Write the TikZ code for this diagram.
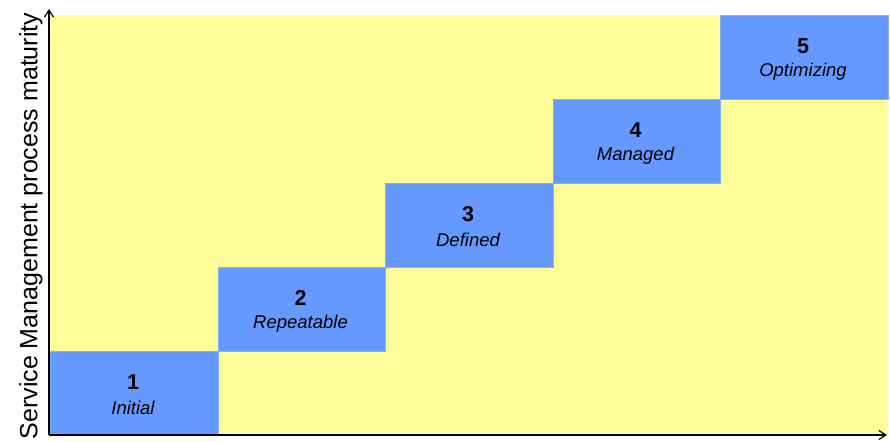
\documentclass[tikz,border=0pt]{standalone}
\usepackage{fontspec}
\setmainfont{Liberation Sans}
\usetikzlibrary{arrows.meta}
\definecolor{bgyellow}{HTML}{FFFF99}
\definecolor{stepblue}{HTML}{6699FF}
\begin{document}
\begin{tikzpicture}[x=1pt,y=-1pt,
  levelbox/.style={fill=stepblue, draw=stepblue!80!white, line width=0.6pt, minimum width=167.5pt, minimum height=84pt, inner sep=0pt, anchor=north west},
  numtext/.style={font=\fontsize{21.5}{24}\selectfont\bfseries},
  labtext/.style={font=\fontsize{18.5}{20}\selectfont\itshape},
  axis/.style={line width=1.2pt, -{Straight Barb[length=7pt,width=9pt]}}]
\useasboundingbox (0,0) rectangle (890,441);
\fill[bgyellow] (50,15) rectangle (888,435);
\node[levelbox] (b1) at (50,351) {};
\node[levelbox] (b2) at (217.5,267) {};
\node[levelbox] (b3) at (385,183) {};
\node[levelbox] (b4) at (552.5,99) {};
\node[levelbox] (b5) at (720,15) {};
\foreach \i/\t/\x/\y in {1/Initial/133/351,2/Repeatable/300.5/267,3/Defined/468/183,4/Managed/635.5/99,5/Optimizing/803/15}{
  \node[numtext] (n\i) at (\x,\y+31) {\i};
  \node[labtext] (l\i) at (\x,\y+57) {\t};
}
\coordinate (o) at (49,435);
\coordinate (ytop) at (49,9);
\coordinate (xend) at (887,435);
\draw[axis] (o) -- (ytop);
\draw[axis] (o) -- (xend);
\node[rotate=90, font=\fontsize{25}{28}\selectfont] (ylab) at (31,226) {Service Management process maturity};
\end{tikzpicture}
\end{document}
